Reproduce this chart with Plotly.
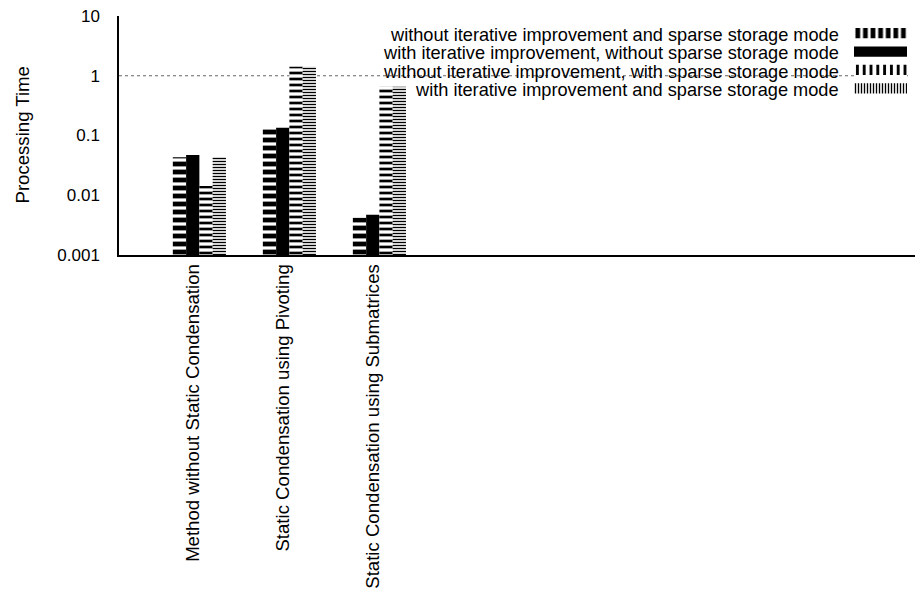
import plotly.graph_objects as go

categories = ["Method without Static Condensation",
              "Static Condensation using Pivoting",
              "Static Condensation using Submatrices"]
series_names = ["without iterative improvement and sparse storage mode",
                "with iterative improvement, without sparse storage mode",
                "without iterative improvement, with sparse storage mode",
                "with iterative improvement and sparse storage mode"]
s1 = [0.0432, 0.1285, 0.0042]
s2 = [0.0472, 0.135, 0.0047]
s3 = [0.0143, 1.42, 0.656]
s4 = [0.0435, 1.42, 0.656]
series_values = [s1, s2, s3, s4]
ytick_vals = [0.001, 0.01, 0.1, 1, 10]
ytick_text = ["0.001", "0.01", "0.1", "1", "10"]

# bar fill styles (horizontal stripes in plot, vertical in key)
bar_patterns = [dict(shape="-", size=8, solidity=0.6),
                None,
                dict(shape="-", size=6, solidity=0.45),
                dict(shape="-", size=3, solidity=0.45)]
key_patterns = [dict(shape="|", size=7.6, solidity=0.62),
                None,
                dict(shape="|", size=6.8, solidity=0.42),
                dict(shape="|", size=3, solidity=0.45)]

FONT = "Liberation Sans, Arial, sans-serif"
TXT = 18.6
KEY = 18.2
TICK = 17
W, H = 917, 592
ML, MR, MT, MB = 119, 2, 16, 337
PW = W - ML - MR
PH = H - MT - MB

xpos = list(range(len(categories)))

fig = go.Figure()
for name, vals, pat in zip(series_names, series_values, bar_patterns):
    marker = dict(color="black", line=dict(width=0))
    if pat is not None:
        marker = dict(color="white", line=dict(width=0),
                      pattern=dict(fgcolor="black", bgcolor="white",
                                   fgopacity=1, **pat))
    fig.add_trace(go.Bar(x=xpos, y=vals, name=name, marker=marker,
                         showlegend=False, xaxis="x", yaxis="y"))

# key samples drawn on an overlay axis
key_rows = list(range(len(series_names)))
for i, pat in enumerate(key_patterns):
    marker = dict(color="black", line=dict(width=0))
    if pat is not None:
        marker = dict(color="white", line=dict(width=0),
                      pattern=dict(fgcolor="black", bgcolor="white",
                                   fgopacity=1, **pat))
    fig.add_trace(go.Bar(x=[1], y=[key_rows[i]], orientation="h",
                         marker=marker, showlegend=False,
                         xaxis="x2", yaxis="y2", width=0.56, hoverinfo="skip"))

for i, name in enumerate(series_names):
    fig.add_annotation(text=name, xref="paper", yref="y2",
                       x=(841 - ML) / PW, y=key_rows[i] + 0.1,
                       xanchor="right", yanchor="middle", showarrow=False,
                       font=dict(family=FONT, size=KEY, color="black"))

fig.add_annotation(text="Processing Time", xref="paper", yref="paper",
                   x=(22 - ML) / PW, y=0.5, textangle=-90,
                   xanchor="center", yanchor="middle", showarrow=False,
                   font=dict(family=FONT, size=TXT, color="black"))

fig.add_shape(type="line", xref="paper", yref="y", x0=0, x1=0.995, y0=1, y1=1,
              line=dict(color="#666666", width=1, dash="dot"), layer="below")

label_shift = -0.067
fig.update_layout(
    width=W, height=H,
    margin=dict(l=ML, r=MR, t=MT, b=MB),
    paper_bgcolor="white", plot_bgcolor="white",
    barmode="group", bargap=0.41, bargroupgap=0,
    font=dict(family=FONT, size=TXT, color="black"),
    xaxis=dict(range=[-0.893, 7.95], tickvals=[p + label_shift for p in xpos],
               ticktext=categories, tickangle=-90, showgrid=False,
               zeroline=False, showline=True, linecolor="black", linewidth=1.5,
               ticks="", tickfont=dict(family=FONT, size=TXT, color="black")),
    yaxis=dict(type="log", range=[-3, 1], tickvals=ytick_vals, ticktext=ytick_text,
               showgrid=False, zeroline=False, showline=True, linecolor="black",
               linewidth=1.5, ticks="", ticklabelstandoff=14,
               tickfont=dict(family=FONT, size=TICK, color="black")),
    xaxis2=dict(domain=[(854 - ML) / PW, (907 - ML) / PW], range=[0, 1],
                anchor="y2", visible=False, fixedrange=True),
    yaxis2=dict(domain=[(H - MB - 97.5) / PH, (H - MB - 24) / PH],
                range=[3.5, -0.5], anchor="x2", visible=False, fixedrange=True),
)

fig.write_html("out.html", config={"displayModeBar": False},
               post_script="document.body.style.margin='0';document.body.style.padding='0';")
